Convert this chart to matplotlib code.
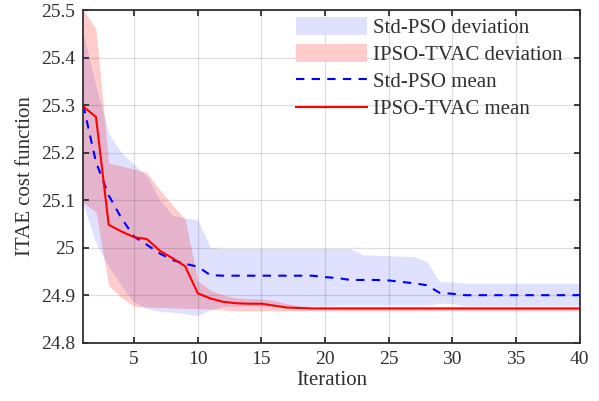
import matplotlib
matplotlib.use("Agg")
import matplotlib.pyplot as plt
from matplotlib.patches import Patch
from matplotlib.lines import Line2D

plt.rcParams['font.family'] = ['Liberation Serif', 'DejaVu Serif']

# iterations 1..40
iteration = list(range(1, 41))

# Std-PSO mean curve
std_mean = [25.300, 25.180, 25.110, 25.062, 25.023, 25.006, 24.988, 24.974, 24.966, 24.960,
            24.942, 24.941, 24.941, 24.941, 24.941, 24.941, 24.941, 24.941, 24.941, 24.938,
            24.936, 24.932, 24.932, 24.932, 24.931, 24.928, 24.925, 24.921, 24.905, 24.903,
            24.900, 24.900, 24.900, 24.900, 24.900, 24.900, 24.900, 24.900, 24.900, 24.900]

# IPSO-TVAC mean curve
ipso_mean = [25.297, 25.275, 25.048, 25.034, 25.022, 25.018, 24.994, 24.978, 24.961, 24.904,
             24.893, 24.886, 24.883, 24.882, 24.882, 24.878, 24.874, 24.873, 24.872, 24.872,
             24.872, 24.872, 24.872, 24.872, 24.872, 24.872, 24.872, 24.872, 24.872, 24.872,
             24.872, 24.872, 24.872, 24.872, 24.872, 24.872, 24.872, 24.872, 24.872, 24.872]

# Std-PSO deviation band
std_upper = [25.450, 25.340, 25.240, 25.200, 25.175, 25.150, 25.100, 25.068, 25.062, 25.058,
             25.000, 24.998, 24.998, 24.998, 24.998, 24.998, 24.998, 24.998, 24.998, 24.998,
             24.998, 24.998, 24.985, 24.984, 24.983, 24.982, 24.981, 24.971, 24.928, 24.928,
             24.925, 24.925, 24.925, 24.925, 24.925, 24.925, 24.925, 24.925, 24.925, 24.925]
std_lower = [25.090, 25.010, 24.960, 24.920, 24.885, 24.872, 24.866, 24.864, 24.861, 24.857,
             24.870, 24.876, 24.877, 24.877, 24.877, 24.877, 24.877, 24.877, 24.877, 24.877,
             24.879, 24.879, 24.879, 24.879, 24.879, 24.879, 24.879, 24.879, 24.883, 24.882,
             24.878, 24.878, 24.878, 24.878, 24.878, 24.878, 24.878, 24.878, 24.878, 24.878]

# IPSO-TVAC deviation band
ipso_upper = [25.500, 25.460, 25.178, 25.172, 25.165, 25.158, 25.122, 25.090, 25.060, 24.930,
              24.910, 24.900, 24.894, 24.893, 24.892, 24.889, 24.882, 24.878, 24.876, 24.876,
              24.876, 24.876, 24.876, 24.876, 24.876, 24.876, 24.876, 24.876, 24.876, 24.876,
              24.876, 24.876, 24.876, 24.876, 24.876, 24.876, 24.876, 24.876, 24.876, 24.876]
ipso_lower = [25.095, 25.075, 24.920, 24.895, 24.877, 24.875, 24.874, 24.873, 24.872, 24.872,
              24.870, 24.869, 24.867, 24.867, 24.867, 24.867, 24.867, 24.867, 24.867, 24.867,
              24.867, 24.867, 24.867, 24.867, 24.867, 24.867, 24.867, 24.867, 24.867, 24.867,
              24.867, 24.867, 24.867, 24.867, 24.867, 24.867, 24.867, 24.867, 24.867, 24.867]

xticks = [5, 10, 15, 20, 25, 30, 35, 40]
yticks = [24.8, 24.9, 25.0, 25.1, 25.2, 25.3, 25.4, 25.5]
ytick_labels = ['24.8', '24.9', '25', '25.1', '25.2', '25.3', '25.4', '25.5']

axcol = '#303030'

fig = plt.figure(figsize=(5.99, 4.01), dpi=100)
ax = fig.add_axes([0.139, 0.1454, 0.8285, 0.8296])

ax.fill_between(iteration, std_lower, std_upper, color='blue', alpha=0.12, linewidth=0)
ax.fill_between(iteration, ipso_lower, ipso_upper, color='red', alpha=0.2, linewidth=0)
ax.plot(iteration, std_mean, color='blue', linewidth=1.5, linestyle=(0, (4, 3.5)))
ax.plot(iteration, ipso_mean, color='red', linewidth=1.5)

ax.set_xlim(1, 40)
ax.set_ylim(24.8, 25.5)
ax.set_xticks(xticks)
ax.set_yticks(yticks)
ax.set_yticklabels(ytick_labels)
ax.grid(True, color='black', alpha=0.13, linewidth=0.9)

for s in ax.spines.values():
    s.set_color(axcol)
    s.set_linewidth(1.3)
ax.tick_params(direction='in', length=4, width=1.3, color=axcol, labelcolor=axcol,
               labelsize=14, top=True, right=True, pad=6)

ax.set_xlabel("Iteration", fontsize=15, color=axcol, labelpad=2)
ax.set_ylabel("ITAE cost function", fontsize=15, color=axcol, labelpad=4)

handles = [Patch(facecolor=(0.88, 0.88, 1.0), edgecolor='none'),
           Patch(facecolor=(1.0, 0.8, 0.8), edgecolor='none'),
           Line2D([], [], color='blue', linewidth=1.5, linestyle=(0, (4, 3.5))),
           Line2D([], [], color='red', linewidth=1.5)]
labels = ["Std-PSO deviation", "IPSO-TVAC deviation", "Std-PSO mean", "IPSO-TVAC mean"]
ax.legend(handles, labels, loc='upper left', bbox_to_anchor=(0.4286, 0.978),
          frameon=False, fontsize=15, borderpad=0, borderaxespad=0,
          handlelength=3.4, handleheight=0.9, handletextpad=0.3, labelspacing=0.3,
          labelcolor=axcol)

fig.savefig("out.png", dpi=100)
